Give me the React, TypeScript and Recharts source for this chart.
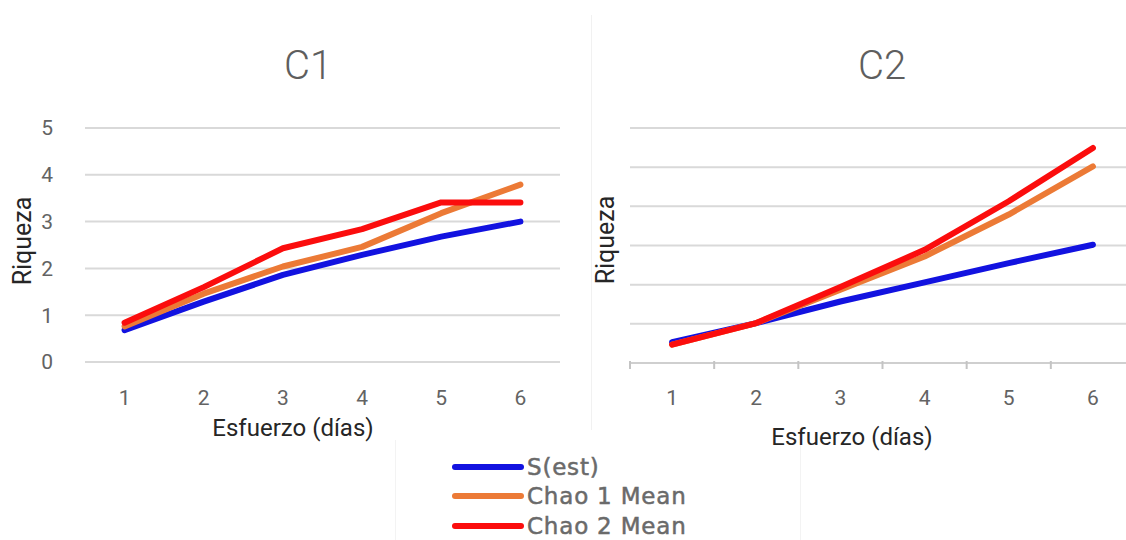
import React from 'react';
import { LineChart, Line, XAxis, YAxis, CartesianGrid } from 'recharts';

// Sampling effort (days)
const days = [1, 2, 3, 4, 5, 6];

// C1 richness estimates
const c1Sest = [0.68, 1.29, 1.86, 2.29, 2.68, 3.0];
const c1Chao1 = [0.76, 1.46, 2.04, 2.46, 3.18, 3.79];
const c1Chao2 = [0.84, 1.6, 2.43, 2.84, 3.41, 3.41];

// C2 richness estimates
const c2Sest = [0.53, 1.02, 1.57, 2.06, 2.55, 3.02];
const c2Chao1 = [0.47, 1.02, 1.87, 2.72, 3.79, 5.02];
const c2Chao2 = [0.47, 1.02, 1.94, 2.89, 4.13, 5.49];

const c1YTicks = [0, 1, 2, 3, 4, 5];
const c2YTicks = [0, 1, 2, 3, 4, 5, 6];
const c1XTicks = [1, 2, 3, 4, 5, 6];
const c2XTicks = [0.5, 1, 1.5, 2, 2.5, 3, 3.5, 4, 4.5, 5, 5.5, 6, 6.5];

const seriesNames = ['S(est)', 'Chao 1 Mean', 'Chao 2 Mean'];
const seriesKeys = ['sest', 'chao1', 'chao2'];
const seriesColors = ['#1212e0', '#ec7a36', '#fb0d0d'];

const buildRows = (a: number[], b: number[], c: number[]) =>
  days.map((d, i) => ({ day: d, sest: a[i], chao1: b[i], chao2: c[i] }));

const c1Data = buildRows(c1Sest, c1Chao1, c1Chao2);
const c2Data = buildRows(c2Sest, c2Chao1, c2Chao2);

const FONT = 'Roboto, "Liberation Sans", Arial, sans-serif';
const TICK_COLOR = '#636363';

const PlainTick = (props: any) => {
  const { x, y, payload } = props;
  return (
    <text x={x} y={y + 43} textAnchor="middle" fontSize={21} fill={TICK_COLOR} fontFamily={FONT}>
      {payload.value}
    </text>
  );
};

// Labels at category centres, short tick marks at category edges
const EdgeTick = (props: any) => {
  const { x, y, payload } = props;
  const v = payload.value;
  if (v % 1 !== 0) {
    return <line x1={x} x2={x} y1={y - 2} y2={y + 6} stroke="#c4c4c4" strokeWidth={2} />;
  }
  return (
    <text x={x} y={y + 42} textAnchor="middle" fontSize={21} fill={TICK_COLOR} fontFamily={FONT}>
      {v}
    </text>
  );
};

const renderLines = () =>
  seriesKeys.map((k, i) => (
    <Line
      key={k}
      type="linear"
      dataKey={k}
      stroke={seriesColors[i]}
      strokeWidth={6}
      strokeLinecap="round"
      strokeLinejoin="round"
      dot={false}
      activeDot={false}
      isAnimationActive={false}
    />
  ));

const abs = (extra: React.CSSProperties): React.CSSProperties => ({
  position: 'absolute',
  fontFamily: FONT,
  whiteSpace: 'nowrap',
  ...extra,
});

export default function App() {
  return (
    <div
      style={{
        position: 'absolute',
        left: 0,
        top: 0,
        width: 1126,
        height: 540,
        overflow: 'hidden',
        background: '#ffffff',
      }}
    >
      {/* faint panel edges */}
      <div style={abs({ left: 591, top: 15, width: 1, height: 415, background: '#f1f1f1' })} />
      <div style={abs({ left: 395, top: 440, width: 1, height: 100, background: '#f3f3f3' })} />
      <div style={abs({ left: 800, top: 440, width: 1, height: 100, background: '#f3f3f3' })} />

      {/* C1 panel */}
      <div style={abs({ left: 0, top: 0 })}>
        <LineChart width={600} height={450} data={c1Data} margin={{ top: 128, right: 40, left: 0, bottom: 28 }}>
          <CartesianGrid vertical={false} stroke="#d9d9d9" strokeWidth={2} />
          <XAxis
            dataKey="day"
            type="number"
            domain={[0.5, 6.5]}
            ticks={c1XTicks}
            interval={0}
            height={60}
            axisLine={false}
            tickLine={false}
            tickSize={0}
            tickMargin={0}
            tick={<PlainTick />}
          />
          <YAxis
            type="number"
            domain={[0, 5]}
            ticks={c1YTicks}
            interval={0}
            width={85}
            axisLine={false}
            tickLine={false}
            tickSize={0}
            tickMargin={32}
            tick={{ fontSize: 21, fill: TICK_COLOR, fontFamily: FONT }}
          />
          {renderLines()}
        </LineChart>
      </div>

      {/* C2 panel */}
      <div style={abs({ left: 580, top: 0 })}>
        <LineChart width={600} height={450} data={c2Data} margin={{ top: 128, right: 45, left: 0, bottom: 27 }}>
          <CartesianGrid vertical={false} stroke="#d9d9d9" strokeWidth={2} />
          <XAxis
            dataKey="day"
            type="number"
            domain={[0.5, 6.5]}
            ticks={c2XTicks}
            interval={0}
            height={60}
            axisLine={{ stroke: '#cfcfcf', strokeWidth: 2 }}
            tickLine={false}
            tickSize={0}
            tickMargin={0}
            tick={<EdgeTick />}
          />
          <YAxis
            type="number"
            domain={[0, 6]}
            ticks={c2YTicks}
            interval={0}
            width={50}
            axisLine={false}
            tickLine={false}
            tickFormatter={() => ''}
          />
          {renderLines()}
        </LineChart>
      </div>

      {/* Titles */}
      <div style={abs({ left: 308, top: 65, transform: 'translate(-50%, -50%)', fontSize: 40, color: '#5e5e5e', fontWeight: 300 })}>C1</div>
      <div style={abs({ left: 882, top: 65, transform: 'translate(-50%, -50%)', fontSize: 40, color: '#5e5e5e', fontWeight: 300 })}>C2</div>

      {/* Axis titles */}
      <div style={abs({ left: 293, top: 428, transform: 'translate(-50%, -50%)', fontSize: 24, color: '#262626' })}>
        Esfuerzo (días)
      </div>
      <div style={abs({ left: 852, top: 437, transform: 'translate(-50%, -50%)', fontSize: 24, color: '#262626' })}>
        Esfuerzo (días)
      </div>
      <div
        style={abs({ left: 22, top: 241, transform: 'translate(-50%, -50%) rotate(-90deg)', fontSize: 25, color: '#262626' })}
      >
        Riqueza
      </div>
      <div
        style={abs({ left: 605, top: 240, transform: 'translate(-50%, -50%) rotate(-90deg)', fontSize: 25, color: '#262626' })}
      >
        Riqueza
      </div>

      {/* Legend */}
      <div style={abs({ left: 452, top: 452 })}>
        {seriesNames.map((name, i) => (
          <div key={name} style={{ display: 'flex', alignItems: 'center', height: 29.5 }}>
            <div style={{ width: 72, height: 6, borderRadius: 3, background: seriesColors[i] }} />
            <span
              style={{
                marginLeft: 3,
                fontFamily: '"DejaVu Sans", "Open Sans", sans-serif',
                fontSize: 23,
                letterSpacing: 0.8,
                color: '#6a6a6a',
                lineHeight: '22px',
                WebkitTextStroke: '0.5px #6a6a6a',
              }}
            >
              {name}
            </span>
          </div>
        ))}
      </div>
    </div>
  );
}
